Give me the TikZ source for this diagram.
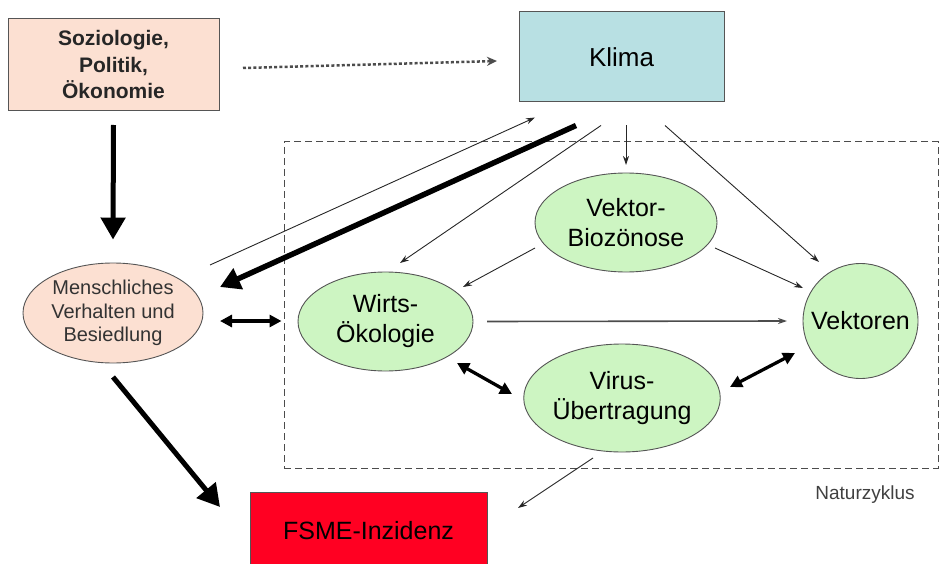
\documentclass[tikz,border=0pt]{standalone}
\usepackage{fontspec}
\setmainfont{Liberation Sans}
\usetikzlibrary{shapes.geometric,arrows.meta}
\definecolor{peach}{HTML}{FCE0D2}
\definecolor{klimablue}{HTML}{B8E0E3}
\definecolor{lgreen}{HTML}{CDF5C2}
\definecolor{fsmered}{HTML}{FF0022}
\definecolor{edgegray}{HTML}{555555}
\tikzset{
  boxnode/.style={draw=edgegray,line width=1pt,rectangle,inner sep=0pt,align=center},
  ellnode/.style={draw=edgegray,line width=0.9pt,ellipse,inner sep=0pt,align=center,fill=lgreen,font=\fontsize{25}{30}\selectfont},
  thinarr/.style={-{Stealth[length=9pt,width=6pt]},line width=0.9pt,draw=black!85},
  thickarr/.style={-{Triangle[length=22pt,width=24pt]},line width=5pt},
  dblarr/.style={{Triangle[length=12pt,width=12pt]}-{Triangle[length=12pt,width=12pt]},line width=3.3pt},
}
\begin{document}
\begin{tikzpicture}[x=1pt,y=-1pt]
\useasboundingbox (0,0) rectangle (939,564);
% nature cycle frame
\node[draw=black!70,line width=1pt,dash pattern=on 7pt off 4pt,rectangle,inner sep=0pt,minimum width=654pt,minimum height=326pt] (natur) at (611,305) {};
\node[font=\fontsize{19}{22}\selectfont,text=black!75] (naturlabel) at (865,495) {Naturzyklus};
% nodes
\node[boxnode,fill=peach,minimum width=211pt,minimum height=92pt,font=\bfseries\fontsize{21}{26.5}\selectfont,text=black!85] (sozio) at (113.5,64.5) {Soziologie,\\Politik,\\Ökonomie};
\node[boxnode,fill=klimablue,minimum width=205pt,minimum height=90pt,font=\fontsize{26}{30}\selectfont] (klima) at (621.5,57) {Klima};
\node[draw=edgegray,line width=0.9pt,ellipse,inner sep=0pt,align=center,fill=peach,minimum width=180pt,minimum height=100pt,font=\fontsize{20}{23.5}\selectfont,text=black!80] (mensch) at (113,313) {Menschliches\\Verhalten und\\Besiedlung};
\node[ellnode,minimum width=175pt,minimum height=99pt] (wirts) at (385.5,321.5) {Wirts-\\Ökologie};
\node[ellnode,minimum width=182pt,minimum height=99pt] (bio) at (626,222.5) {Vektor-\\Biozönose};
\node[ellnode,circle,minimum size=115pt] (vekt) at (860.5,321) {Vektoren};
\node[ellnode,minimum width=190pt,minimum height=108pt] (virus) at (622,398) {Virus-\\Übertragung};
\node[boxnode,fill=fsmered,minimum width=237pt,minimum height=78pt,font=\fontsize{25}{30}\selectfont] (fsme) at (368.5,531) {FSME-Inzidenz};
% connectors
\draw[-{Stealth[length=10pt,width=9pt]},line width=2.5pt,dash pattern=on 3pt off 2.2pt,black!70] ([xshift=129.5pt,yshift=-3.5pt]sozio.center) -- ([xshift=-124.5pt,yshift=-4pt]klima.center);
\draw[thickarr] ([yshift=-60.5pt]sozio.center) -- ([yshift=23pt]mensch.north);
\draw[thinarr] ([xshift=97pt,yshift=48pt]mensch.center) -- ([xshift=-86.5pt,yshift=-15pt]klima.south);
\draw[-{Triangle[length=20pt,width=22pt]},line width=5.5pt] ([xshift=-45.5pt,yshift=-23pt]klima.south) -- ([xshift=107pt,yshift=26pt]mensch.center);
\draw[thinarr] ([xshift=-20.5pt,yshift=-23pt]klima.south) -- ([xshift=14.5pt,yshift=58.5pt]wirts.center);
\draw[thinarr] ([xshift=4.5pt,yshift=-23pt]klima.south) -- ([yshift=57.5pt]bio.center);
\draw[thinarr] ([xshift=43.5pt,yshift=-23pt]klima.south) -- ([xshift=-41.5pt,yshift=59pt]vekt.center);
\draw[thinarr] ([xshift=-91pt,yshift=-25.5pt]bio.center) -- ([xshift=77.5pt,yshift=34.5pt]wirts.center);
\draw[thinarr] ([xshift=89pt,yshift=-25.5pt]bio.center) -- ([xshift=-57.5pt,yshift=33pt]vekt.center);
\draw[thinarr,line width=1.6pt,draw=black!70] ([xshift=101.5pt]wirts.center) -- ([xshift=-73.5pt]vekt.center);
\draw[dblarr] ([xshift=107pt,yshift=-8pt]mensch.center) -- ([xshift=-2pt,yshift=-16pt]natur.west);
\draw[dblarr] ([xshift=-110pt,yshift=4pt]virus.center) -- ([xshift=71.5pt,yshift=-41.5pt]wirts.center);
\draw[dblarr] ([xshift=108pt,yshift=11pt]virus.center) -- ([xshift=-65.5pt,yshift=-32pt]vekt.center);
\draw[thinarr] ([xshift=-29pt,yshift=-60pt]virus.center) -- ([xshift=149.5pt,yshift=23pt]fsme.center);
\draw[thickarr] ([yshift=-64pt]mensch.center) -- ([xshift=-148.5pt,yshift=24pt]fsme.center);
\end{tikzpicture}
\end{document}
